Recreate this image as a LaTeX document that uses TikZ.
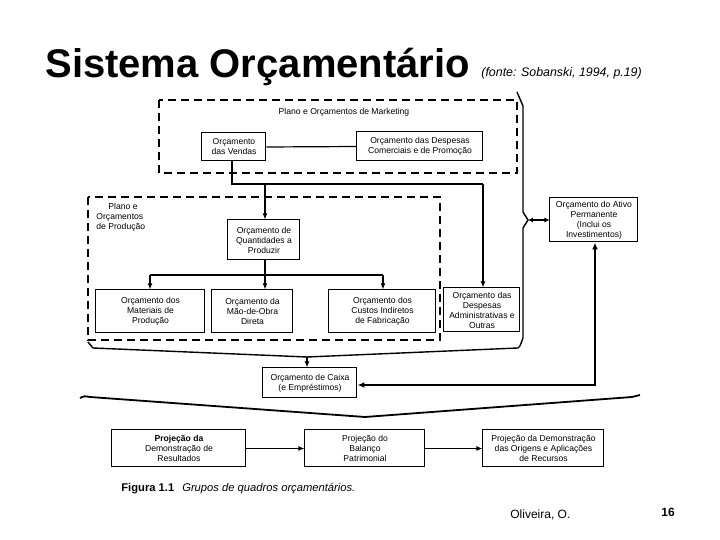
\documentclass[tikz,border=0pt]{standalone}
\usepackage{fontspec}
\setmainfont{Liberation Sans}
\usetikzlibrary{arrows.meta}
\begin{document}
\begin{tikzpicture}[x=0.5pt,y=-0.5pt,
  box/.style={draw, line width=0.5pt, align=center, inner sep=0pt, font=\fontsize{4.3}{5}\selectfont},
  dbox/.style={draw, line width=1pt, dash pattern=on 4pt off 2.5pt},
  conn/.style={line width=0.6pt},
  arr/.style={line width=0.6pt, -{Latex[length=3pt,width=2.5pt]}},
  brk/.style={line width=0.7pt}]
\useasboundingbox (0,0) rectangle (720,540);
% title
\node[anchor=base west, font=\fontsize{20}{22}\selectfont\bfseries, inner sep=0pt] (title) at (45,78) {Sistema Orçamentário};
\node[anchor=base west, font=\fontsize{6.2}{7}\selectfont\itshape, inner sep=0pt] (src) at (481,77) {(fonte: Sobanski, 1994, p.19)};
\node[anchor=base west, font=\fontsize{6}{7}\selectfont, inner sep=0pt] (auth) at (510,519) {Oliveira, O.};
\node[anchor=base west, font=\fontsize{6}{7}\selectfont\bfseries, inner sep=0pt] (pg) at (661,517) {16};
% dashed groups
\draw[dbox] (159,100) rectangle (517,173);
\node[font=\fontsize{4.3}{5}\selectfont] (mkt) at (344,112) {Plano e Orçamentos de Marketing};
\draw[dbox] (88,197) rectangle (440,340);
\node[font=\fontsize{4.3}{5}\selectfont, align=left, anchor=north west, inner sep=0pt] (prod) at (96,203) {\hspace*{6pt}Plano e\\Orçamentos\\de Produção};
% boxes
\node[box, minimum width=32pt, minimum height=14pt] (vendas) at (234,147) {Orçamento\\das Vendas};
\node[box, minimum width=63pt, minimum height=14.5pt] (com) at (420,146.5) {Orçamento das Despesas\\Comerciais e de Promoção};
\node[box, minimum width=36pt, minimum height=20pt] (quant) at (264,240) {Orçamento de\\Quantidades a\\Produzir};
\node[box, minimum width=54.5pt, minimum height=21.5pt] (mat) at (150.5,311.5) {Orçamento dos\\Materiais de\\Produção};
\node[box, minimum width=40.5pt, minimum height=21.5pt] (mao) at (252.5,311.5) {Orçamento da\\Mão-de-Obra\\Direta};
\node[box, minimum width=53.5pt, minimum height=21.5pt] (cus) at (382.5,311.5) {Orçamento dos\\Custos Indiretos\\de Fabricação};
\node[box, minimum width=38pt, minimum height=22pt] (adm) at (482,310) {Orçamento das\\Despesas\\Administrativas e\\Outras};
\node[box, minimum width=44pt, minimum height=22pt] (ativo) at (594,220) {Orçamento do Ativo\\Permanente\\(Inclui os\\Investimentos)};
\node[box, minimum width=47pt, minimum height=15pt] (caixa) at (310,383) {Orçamento de Caixa\\(e Empréstimos)};
\node[box, minimum width=67pt, minimum height=18.5pt] (res) at (179,448.5) {\textbf{Projeção da}\\Demonstração de\\Resultados};
\node[box, minimum width=60pt, minimum height=18.5pt] (bal) at (365,448.5) {Projeção do\\Balanço\\Patrimonial};
\node[box, minimum width=60.5pt, minimum height=18.5pt] (rec) at (543.5,448.5) {Projeção da Demonstração\\das Origens e Aplicações\\de Recursos};
% connectors
\draw[conn] (vendas.east) -- (com.west);
\coordinate (v1) at (232,184);
\coordinate (v2) at (483,184);
\draw[conn, line width=0.9pt] (vendas.south -| v1) -- (v1) -- (v2);
\draw[arr] (v2) -- (adm.north -| v2);
\coordinate (q1) at (265,184);
\draw[arr] (q1) -- (quant.north -| q1);
\coordinate (h0) at (265,275);
\coordinate (h1) at (150,275);
\coordinate (h2) at (383,275);
\draw[conn] (quant.south -| h0) -- (h0);
\draw[arr] (h1) -- (h2 -| h2) (h1) -- (mat.north -| h1);
\draw[conn] (h1) -- (h2);
\draw[arr] (h0) -- (mao.north -| h0);
\draw[arr] (h2) -- (cus.north -| h2);
% right brace
\coordinate (rb) at (528,220);
\draw[brk] (517,92) -- (523,106) -- (523,212) -- (rb) -- (523,228) -- (523,338) -- (520,346);
\draw[line width=0.6pt, {Latex[length=2.5pt,width=2.5pt]}-{Latex[length=2.5pt,width=2.5pt]}] (rb) -- (ativo.west);
% caixa brace
\coordinate (cb) at (307,357);
\draw[brk] (88,342) -- (93,348) -- (cb) -- (518,348) -- (520,346);
\draw[arr] (cb) -- (caixa.north -| cb);
% ativo to caixa
\coordinate (a1) at (595,385);
\draw[line width=0.7pt, {Latex[length=3.5pt,width=3pt]}-{Latex[length=3.5pt,width=3pt]}] (caixa.east |- a1) -- (a1) -- (ativo.south -| a1);
% big brace
\coordinate (bb) at (365,417);
\draw[brk, line width=0.9pt] (80,398) .. controls (84,396) .. (90,397) -- (bb) -- (632,397) .. controls (636,396) .. (640,395);
% bottom arrows
\draw[arr] (res.east) -- (bal.west);
\draw[arr] (bal.east) -- (rec.west);
% caption
\node[anchor=base west, font=\fontsize{5.6}{6}\selectfont, inner sep=0pt] (cap) at (121,492) {\textbf{Figura 1.1}\hspace{4pt}\textit{Grupos de quadros orçamentários.}};
\end{tikzpicture}
\end{document}
